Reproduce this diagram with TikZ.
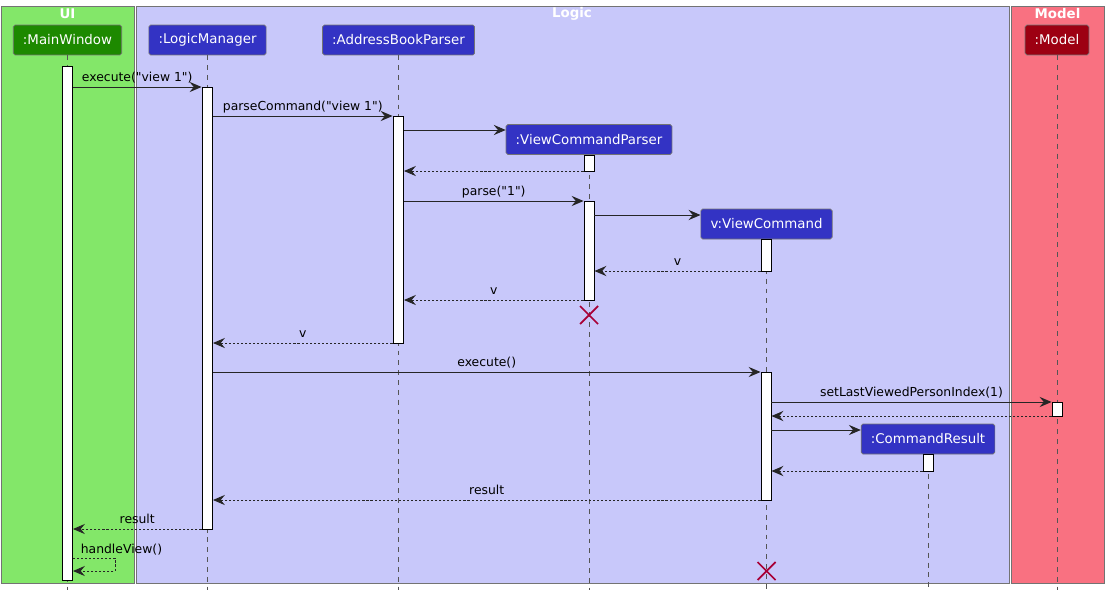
\documentclass[tikz,border=0pt]{standalone}
\usepackage{fontspec}
\setmainfont{DejaVu Sans}[Ligatures=TeXOff]
\usetikzlibrary{arrows.meta,fit}

\definecolor{uiBack}{HTML}{83E769}
\definecolor{uiHead}{HTML}{1D8900}
\definecolor{logicBack}{HTML}{C8C8FA}
\definecolor{logicHead}{HTML}{3333C4}
\definecolor{modelBack}{HTML}{F97181}
\definecolor{modelHead}{HTML}{9D0012}
\definecolor{killRed}{HTML}{A80036}
\definecolor{lineGrey}{HTML}{555555}

\begin{document}
\begin{tikzpicture}[x=0.02cm, y=-0.02cm,
    every node/.style={font=\fontsize{7.05}{8}\selectfont},
    frame/.style={draw=black!55, line width=0.45pt},
    title/.style={font=\fontsize{7.6}{9}\selectfont\bfseries, text=white},
    part/.style={draw=black!55, line width=0.4pt, rounded corners=1pt, text=white,
        font=\fontsize{7.6}{9}\selectfont, minimum height=0.6cm, inner xsep=5.5pt},
    life/.style={draw=lineGrey, dash pattern=on 2.8pt off 2.8pt, line width=0.4pt},
    act/.style={draw=black, fill=white, line width=0.55pt, inner sep=0pt},
    msg/.style={-{Stealth[length=6.8pt, width=5.8pt, inset=2.4pt]}, line width=0.55pt, black!85},
    ret/.style={msg, dash pattern=on 1.2pt off 1.1pt},
    lbl/.style={midway, above, text depth=0pt, inner ysep=3pt, text=black},
    kill/.style={killRed, line width=1pt}]
    \useasboundingbox (0,0) rectangle (1108,595);

    % --- Draw the three layer boxes ---
    \draw[frame, fill=uiBack] (1,6) rectangle (134,583);
    \draw[frame, fill=logicBack] (136,6) rectangle (1009,583);
    \draw[frame, fill=modelBack] (1011,6) rectangle (1104,583);
    \node[title] (tUI) at (67.5,14) {UI};
    \node[title] (tLogic) at (572,14) {Logic};
    \node[title] (tModel) at (1057.5,14) {Model};
    % ---

    % --- Draw participants ---
    \node[part, fill=uiHead] (mw) at (67.5,40) {:MainWindow};
    \node[part, fill=logicHead] (lm) at (207.5,40) {:LogicManager};
    \node[part, fill=logicHead] (abp) at (398.5,40) {:AddressBookParser};
    \node[part, fill=logicHead] (vcp) at (589,139.5) {:ViewCommandParser};
    \node[part, fill=logicHead] (vc) at (766.5,224) {v:ViewCommand};
    \node[part, fill=logicHead] (cr) at (928,439) {:CommandResult};
    \node[part, fill=modelHead] (mdl) at (1057,40) {:Model};
    % ---

    % --- Draw lifelines ---
    \foreach \p in {mw, lm, abp, vcp, vc, cr, mdl}
        \draw[life] (\p.south) -- (\p.south |- 0,590);
    % ---

    % --- Draw activation bars ---
    \node[act, fit={(62,66) (72.5,580)}] (aMW) {};
    \node[act, fit={(202,87) (212.5,529)}] (aLM) {};
    \node[act, fit={(393,116) (403.5,343)}] (aABP) {};
    \node[act, fit={(584,155) (594,171)}] (aVCP1) {};
    \node[act, fit={(584,201) (594,300)}] (aVCP2) {};
    \node[act, fit={(761,239) (771,271)}] (aVC1) {};
    \node[act, fit={(761,372) (771,500)}] (aVC2) {};
    \node[act, fit={(1052,402) (1062,416)}] (aMdl) {};
    \node[act, fit={(923,454) (933,471)}] (aCR) {};
    % ---

    % --- Draw parsing of the command ---
    \draw[msg] (aMW.east |- 0,87) -- (aLM.west |- 0,87) node[lbl] {execute("view 1")};
    \draw[msg] (aLM.east |- 0,116) -- (aABP.west |- 0,116) node[lbl] {parseCommand("view 1")};
    \draw[msg] (aABP.east |- 0,130) -- (vcp.west |- 0,130);
    \draw[ret] (aVCP1.west |- 0,171) -- (aABP.east |- 0,171);
    \draw[msg] (aABP.east |- 0,201) -- (aVCP2.west |- 0,201) node[lbl] {parse("1")};
    \draw[msg] (aVCP2.east |- 0,215) -- (vc.west |- 0,215);
    \draw[ret] (aVC1.west |- 0,271) -- (aVCP2.east |- 0,271) node[lbl] {v};
    \draw[ret] (aVCP2.west |- 0,300) -- (aABP.east |- 0,300) node[lbl] {v};
    \coordinate (xVCP) at (vcp.south |- 0,315);
    \draw[kill] (xVCP) ++(-9,-9) -- ++(18,18) ++(0,-18) -- ++(-18,18);
    \draw[ret] (aABP.west |- 0,343) -- (aLM.east |- 0,343) node[lbl] {v};
    % ---

    % --- Draw execution of the command ---
    \draw[msg] (aLM.east |- 0,372) -- (aVC2.west |- 0,372) node[lbl] {execute()};
    \draw[msg] (aVC2.east |- 0,402) -- (aMdl.west |- 0,402) node[lbl] {setLastViewedPersonIndex(1)};
    \draw[ret] (aMdl.west |- 0,416) -- (aVC2.east |- 0,416);
    \draw[msg] (aVC2.east |- 0,430) -- (cr.west |- 0,430);
    \draw[ret] (aCR.west |- 0,471) -- (aVC2.east |- 0,471);
    \draw[ret] (aVC2.west |- 0,500) -- (aLM.east |- 0,500) node[lbl] {result};
    \draw[ret] (aLM.west |- 0,529) -- (aMW.east |- 0,529) node[lbl] {result};
    \draw[ret] (aMW.east |- 0,558) -- (115,558) -- (115,571) -- (aMW.east |- 0,571);
    \node[anchor=base west, inner sep=0pt, xshift=0.15cm, yshift=0.1cm] (hv) at (aMW.east |- 0,558) {handleView()};
    \coordinate (xVC) at (vc.south |- 0,571);
    \draw[kill] (xVC) ++(-9,-9) -- ++(18,18) ++(0,-18) -- ++(-18,18);
    % ---
\end{tikzpicture}
\end{document}
